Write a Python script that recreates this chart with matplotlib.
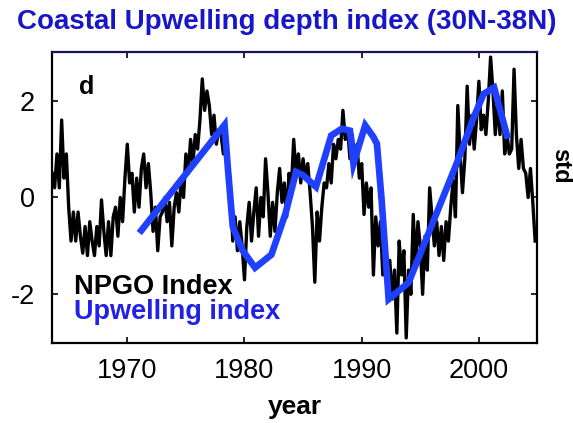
import numpy as np
import matplotlib
matplotlib.use('Agg')
import matplotlib.pyplot as plt

plt.rcParams['font.family'] = ['Liberation Sans', 'DejaVu Sans']
plt.rcParams['axes.unicode_minus'] = False

# NPGO index, sampled every 0.2 yr starting 1963.6
npgo = [
    0.5, 0.2,                       # 1963
    0.9, 0.2, 1.6, 0.4, 0.9,        # 1964
    -0.2, -0.9, -0.3, -0.9, -0.3,   # 1965
    -0.8, -1.15, -0.6, -1.2, -0.5,  # 1966
    -0.9, -1.2, -0.6, -1.0, -0.05,  # 1967
    -0.7, -1.2, -0.5, -1.2, -0.4,   # 1968
    -0.2, -0.8, 0.0, -0.5, 0.4,     # 1969
    1.1, 0.3, 0.5, -0.3, 0.4,       # 1970
    -0.2, 0.6, 0.9, 0.2, 0.7,       # 1971
    0.1, -0.7, -0.2, -1.1, -0.4,    # 1972
    -0.3, 0.0, -0.5, -0.1, -1.0,    # 1973
    -0.2, 0.1, -0.3, 0.4, 0.0,      # 1974
    0.9, 0.5, 1.2, 0.7, 1.3,        # 1975
    1.0, 1.6, 2.45, 1.8, 2.2,       # 1976
    1.9, 1.3, 1.7, 1.1, 1.4,        # 1977
    1.3, 0.9, 1.2, 0.8, 0.2,        # 1978
    -0.9, -0.4, -1.1, -0.5, -1.0,   # 1979
    -1.7, -0.6, -0.1, -0.9, -0.3,   # 1980
    0.2, -0.8, 0.0, -0.4, 0.8,      # 1981
    0.1, -0.8, -0.1, -0.7, 0.1,     # 1982
    0.6, -0.1, 0.3, -0.4, 0.5,      # 1983
    0.2, 1.2, 0.5, 0.9, 0.3,        # 1984
    0.8, 0.4, 0.7, 0.1, -0.6,       # 1985
    -1.75, -0.3, -0.9, -0.2, 0.3,   # 1986
    0.2, 0.7, 0.3, 1.1, 0.8,        # 1987
    1.2, 1.0, 1.8, 1.2, 1.4,        # 1988
    0.8, 1.3, 0.7, 1.1, 0.4,        # 1989
    0.7, -0.35, 0.3, -0.2, 0.2,     # 1990
    -1.6, -0.4, -1.0, -0.5, -1.6,   # 1991
    -1.0, -2.0, -1.3, -2.1, -1.5,   # 1992
    -2.8, -0.9, -1.6, -1.1, -2.9,   # 1993
    -1.5, -2.0, -0.35, -1.4, -0.5,  # 1994
    -1.0, -2.0, -0.8, -1.5, 0.2,    # 1995
    -0.4, -1.0, -0.5, -1.2, -0.6,   # 1996
    -1.3, -0.5, -0.9, -0.2, 0.35,   # 1997
    -0.4, 1.9, 0.9, 0.1, 0.8,       # 1998
    2.3, 1.1, 1.7, 1.0, 1.6,        # 1999
    2.4, 1.4, 1.7, 1.3, 2.0,        # 2000
    2.9, 2.2, 1.3, 2.0, 1.3,        # 2001
    2.2, 0.9, 1.3, 0.9, 1.0,        # 2002
    2.65, 1.3, 0.6, 1.2, 0.6,       # 2003
    0.5, 0.0, 0.6, -0.1, -0.9,      # 2004
]
npgo_year = np.round(1963.6 + 0.2 * np.arange(len(npgo)), 1)

# coastal upwelling depth index (30N-38N)
upw_year = [1971.2, 1978.3, 1978.6, 1979.0, 1979.8, 1980.9, 1982.3, 1983.5,
            1984.4, 1985.0, 1986.1, 1987.4, 1988.3, 1989.0, 1989.3, 1990.3,
            1991.0, 1991.3, 1991.7, 1992.3, 1994.0, 1998.1, 1999.5, 2000.4,
            2001.3, 2002.4]
upw_val = [-0.68, 1.50, 0.56, -0.60, -1.08, -1.45, -1.18, -0.33,
           0.53, 0.46, 0.22, 1.28, 1.42, 1.38, 0.70, 1.49,
           1.25, 1.11, -0.05, -2.10, -1.76, 0.70, 1.62, 2.14,
           2.27, 1.28]

xticks = [1970, 1980, 1990, 2000]
yticks = [-2, 0, 2]

fig = plt.figure(figsize=(5.73, 4.23), dpi=100)
ax = fig.add_axes([0.0902, 0.1898, 0.8470, 0.6866])

ax.plot(npgo_year, npgo, color='black', lw=2.4, zorder=2)
ax.plot(upw_year, upw_val, color='#2040ff', lw=4.8, zorder=3,
        solid_joinstyle='miter')

ax.set_xlim(1963.55, 2004.96)
ax.set_ylim(-3, 3)
ax.set_xticks(xticks)
ax.set_yticks(yticks)
ax.tick_params(direction='in', length=4, width=1.2, top=True, right=True,
               labelsize=19.5)
ax.tick_params(axis='x', pad=11)
ax.tick_params(axis='y', pad=12)
for sp in ax.spines.values():
    sp.set_linewidth(1.6)
ax.spines['top'].set_color('#14145a')

ax.set_xlabel('year', fontsize=19, fontweight='bold', labelpad=8)

ax.text(1965.9, 2.14, 'd', fontsize=18, fontweight='bold', va='baseline')
ax.text(1965.47, -2.0, 'NPGO Index', fontsize=19.5, fontweight='bold',
        color='black', va='baseline')
ax.text(1965.47, -2.51, 'Upwelling index', fontsize=19.5, fontweight='bold',
        color='#2222e6', va='baseline')

fig.text(0.5, 1 - 22 / 423, 'Coastal Upwelling depth index (30N-38N)',
         ha='center', va='center', fontsize=20, fontweight='bold',
         color='#1717c8')
fig.text(561 / 573, 1 - 166 / 423, 'std', rotation=-90, ha='center',
         va='center', fontsize=17, fontweight='bold')

fig.savefig('out.png', dpi=100)
